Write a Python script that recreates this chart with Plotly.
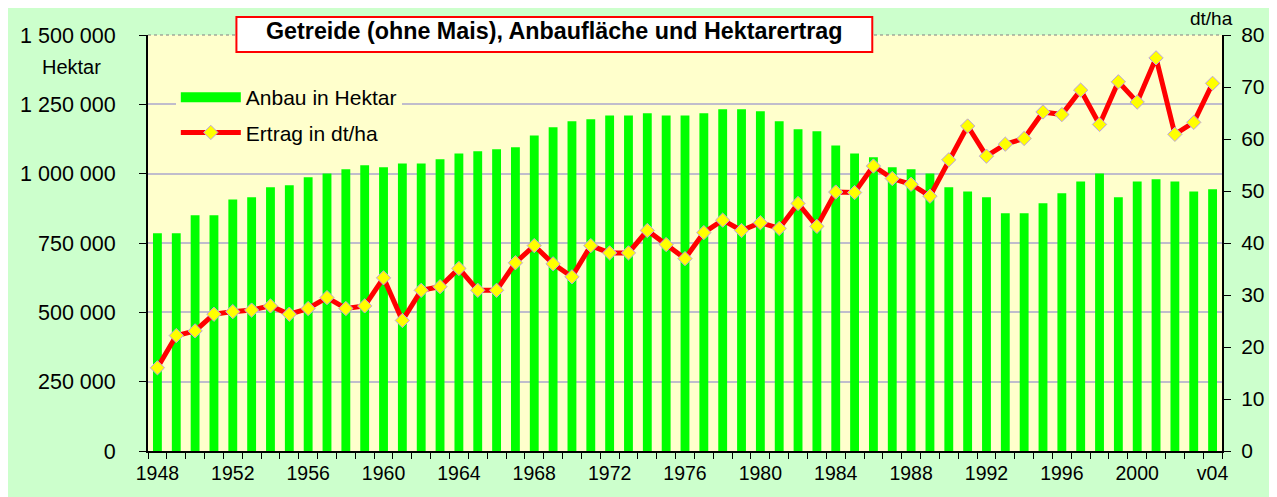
import plotly.graph_objects as go

years = list(range(1948, 2005))
anbau_ha = [785000, 785000, 850000, 850000, 907000, 915000, 951000, 958000, 987000, 1001000,
            1016000, 1030000, 1023000, 1037000, 1037000, 1052000, 1073000, 1081000, 1088000, 1095000,
            1138000, 1167000, 1189000, 1196000, 1210000, 1210000, 1218000, 1210000, 1210000, 1218000,
            1232000, 1232000, 1225000, 1189000, 1160000, 1153000, 1102000, 1073000, 1059000, 1023000,
            1016000, 1001000, 951000, 936000, 915000, 857000, 857000, 893000, 929000, 972000,
            1001000, 915000, 972000, 980000, 972000, 936000, 944000]
ertrag_dtha = [16.0, 22.2, 23.1, 26.3, 26.8, 27.1, 27.9, 26.3, 27.4, 29.5,
               27.4, 27.9, 33.3, 25.1, 30.9, 31.6, 35.1, 30.9, 30.9, 36.2,
               39.5, 36.0, 33.5, 39.5, 38.1, 38.1, 42.4, 39.7, 37.0, 42.0,
               44.4, 42.4, 43.9, 42.8, 47.6, 43.2, 49.8, 49.7, 54.8, 52.4,
               51.3, 49.0, 56.0, 62.5, 56.7, 59.0, 60.1, 65.2, 64.7, 69.4,
               62.8, 71.0, 67.1, 75.6, 60.9, 63.2, 70.7]
xtick_years = list(range(1948, 2005, 4))
xtick_text = [str(y) for y in xtick_years[:-1]] + ["v04"]
left_tickvals = [0, 250000, 500000, 750000, 1000000, 1250000, 1500000]
left_ticktext = ["0", "250\u00a0000", "500\u00a0000", "750\u00a0000", "1\u00a0000\u00a0000",
                 "1\u00a0250\u00a0000", "1\u00a0500\u00a0000"]
right_tickvals = [0, 10, 20, 30, 40, 50, 60, 70, 80]

FONT = "Liberation Sans, Arial, sans-serif"
OFF = 8  # page body margin
WIN_W, WIN_H = 1277, 497
PL, PR, PT, PB = 147, 1228, 35, 451  # plot area in window pixels
PW, PH = PR - PL, PB - PT
W, H = WIN_W - OFF, WIN_H - OFF
L, T = PL - OFF, PT - OFF
R, B = W - L - PW, H - T - PH

def px(x):
    return (x - PL) / PW

def py(y):
    return (PB - y) / PH

fig = go.Figure()
fig.add_trace(go.Bar(x=years, y=anbau_ha, name="Anbau in Hektar", marker=dict(color="#00FF00", line=dict(width=0)),
                     showlegend=False, yaxis="y"))
fig.add_trace(go.Scatter(x=years, y=ertrag_dtha, name="Ertrag in dt/ha", mode="lines+markers",
                         line=dict(color="#FF0000", width=5),
                         marker=dict(symbol="diamond", size=11, color="#FFFF00", line=dict(color="#B9A0E6", width=1)),
                         showlegend=False, yaxis="y2"))
# legend entries (dummy traces)
fig.add_trace(go.Scatter(x=[None], y=[None], name="Anbau in Hektar", mode="lines",
                         line=dict(color="#00FF00", width=14), yaxis="y", legendgroup="a"))
fig.add_trace(go.Scatter(x=[None], y=[None], name="Ertrag in dt/ha", mode="lines+markers",
                         line=dict(color="#FF0000", width=5),
                         marker=dict(symbol="diamond", size=11, color="#FFFF00", line=dict(color="#B9A0E6", width=1)),
                         yaxis="y2", legendgroup="b"))

shapes = [
    dict(type="line", xref="paper", yref="paper", x0=0, x1=1, y0=1, y1=1,
         line=dict(color="#808080", width=1, dash="dot")),
    dict(type="rect", xref="paper", yref="paper", x0=px(236), x1=px(876), y0=py(52), y1=py(17),
         fillcolor="white", line=dict(color="#FF0000", width=2)),
]

annotations = [
    dict(text="<b>Getreide (ohne Mais), Anbaufläche und Hektarertrag</b>", xref="paper", yref="paper",
         x=px(556), y=py(31), xanchor="center", yanchor="middle", showarrow=False,
         font=dict(family=FONT, size=23.3, color="black")),
    dict(text="Hektar", xref="paper", yref="paper", x=px(70), y=py(67), xanchor="center", yanchor="middle",
         showarrow=False, font=dict(family=FONT, size=20, color="black")),
    dict(text="dt/ha", xref="paper", yref="paper", x=px(1240), y=py(19), xanchor="right", yanchor="middle",
         showarrow=False, borderpad=0, font=dict(family=FONT, size=19, color="black")),
]

fig.update_layout(
    width=W, height=H,
    margin=dict(l=L, r=R, t=T, b=B, pad=0),
    paper_bgcolor="#CCFFCC",
    plot_bgcolor="#FFFFCC",
    bargap=0.53,
    font=dict(family=FONT, size=20, color="black"),
    showlegend=True,
    legend=dict(x=px(175), y=py(77), xanchor="left", yanchor="top", bgcolor="#FFFFCC",
                borderwidth=0, itemwidth=60, tracegroupgap=5,
                font=dict(family=FONT, size=21, color="black")),
    xaxis=dict(range=[1947.5, 2004.5], tickmode="array", tickvals=xtick_years, ticktext=xtick_text,
               ticks="", showgrid=False, zeroline=False, showline=True, linecolor="black", linewidth=2,
               tickfont=dict(family=FONT, size=19.5), ticklabelstandoff=4,
               minor=dict(tick0=1947.5, dtick=1, ticks="outside", ticklen=6, tickcolor="black", tickwidth=1,
                          showgrid=False)),
    yaxis=dict(range=[0, 1500000], tickmode="array", tickvals=left_tickvals, ticktext=left_ticktext,
               ticks="outside", ticklen=7, tickcolor="black", tickwidth=1,
               showgrid=True, gridcolor="#C0BDCC", gridwidth=1.5, zeroline=False,
               showline=True, linecolor="black", linewidth=2, tickfont=dict(family=FONT, size=21.5),
               ticklabelstandoff=19),
    yaxis2=dict(range=[0, 80], overlaying="y", side="right", tickmode="array", tickvals=right_tickvals,
                ticks="outside", ticklen=7, tickcolor="black", tickwidth=1, showgrid=False, zeroline=False,
                showline=True, linecolor="black", linewidth=2, tickfont=dict(family=FONT, size=21),
                ticklabelstandoff=6),
    shapes=shapes,
    annotations=annotations,
)

fig.write_html("out.html")
